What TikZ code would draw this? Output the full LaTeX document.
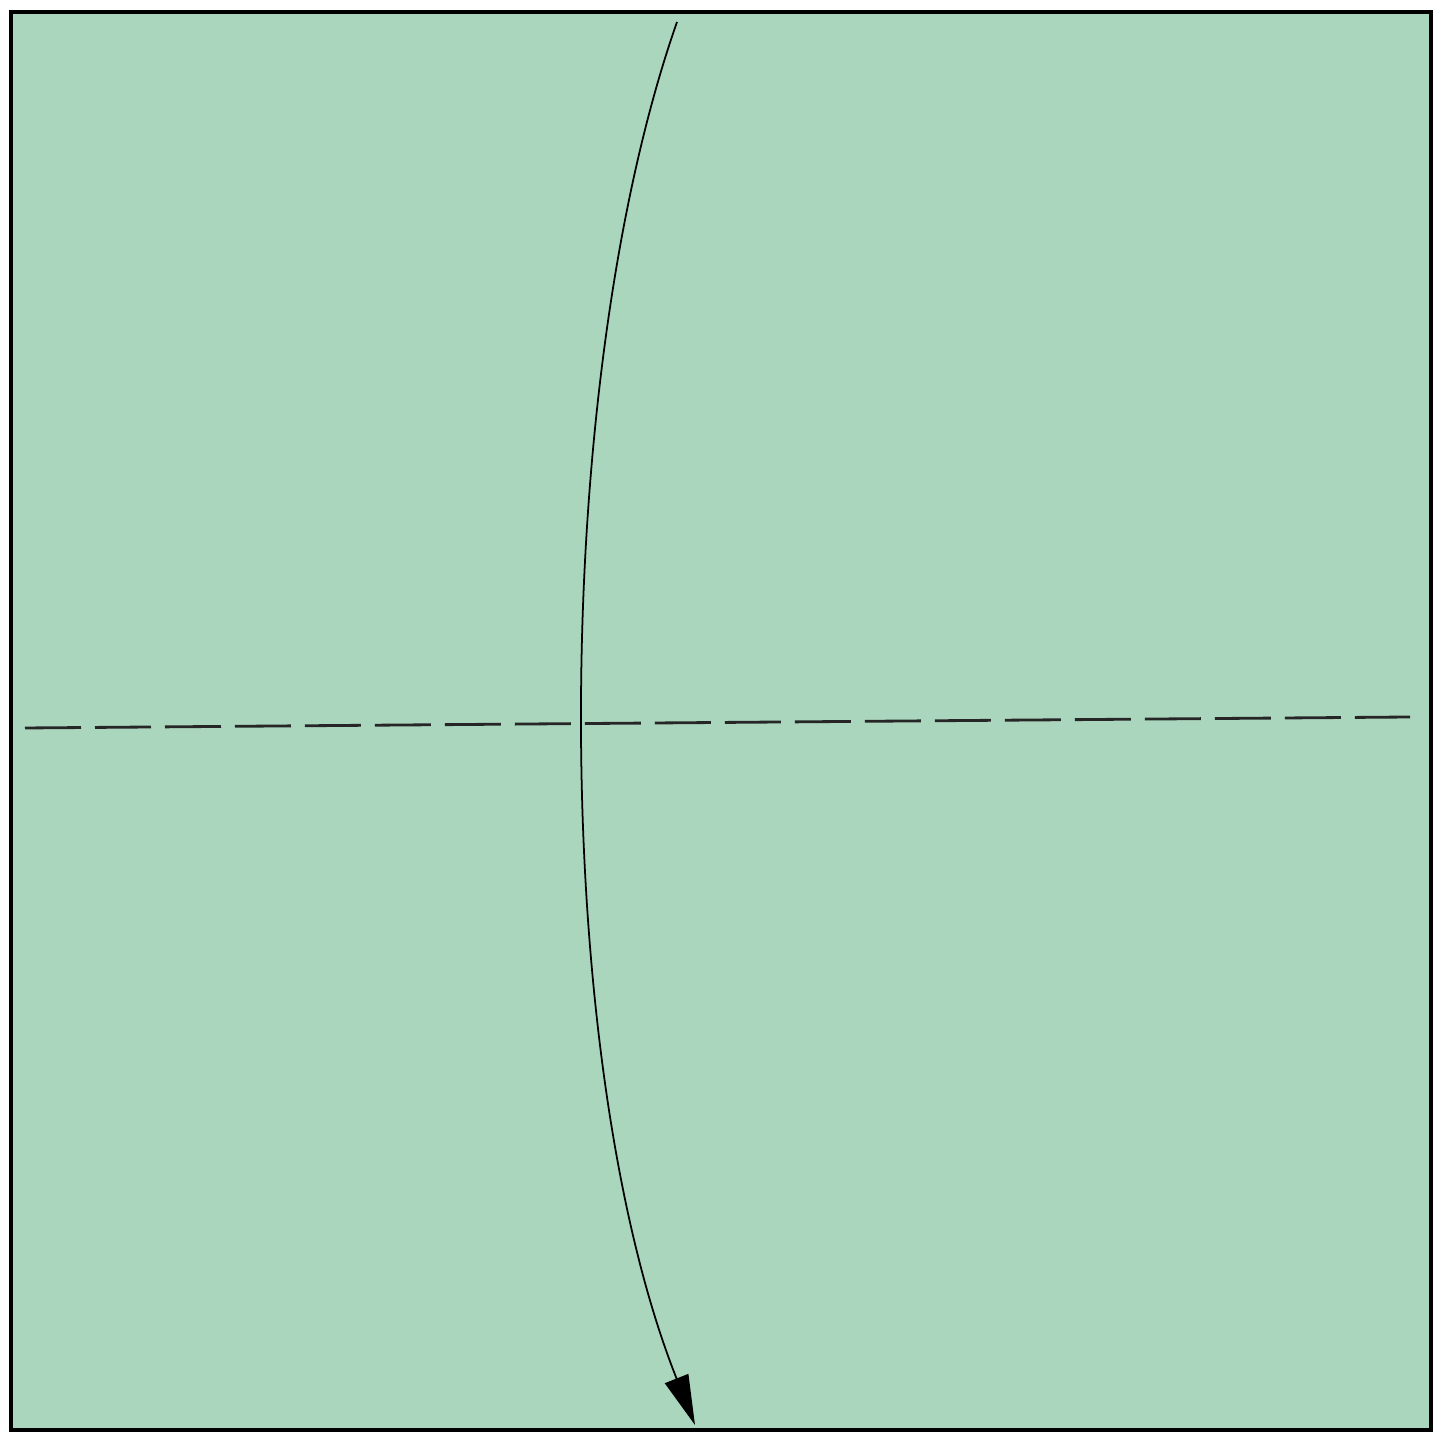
\documentclass[tikz,border=0pt]{standalone}
\usepackage{xcolor}
\usetikzlibrary{arrows.meta}
\definecolor{papergreen}{RGB}{170,214,190}

\begin{document}
\begin{tikzpicture}[
	paper/.style={draw=black, line width=1.3pt, fill=papergreen},
	valley/.style={draw=black!85, line width=0.8pt, dash pattern=on 5.6mm off 1.4mm},
	foldarrow/.style={-{Triangle[length=5mm, width=2.5mm]}, line width=0.5pt}
	]
	
	\useasboundingbox (0,0) rectangle (14.45,14.37);
	
	% sheet of paper
	\coordinate (TL) at (0.11,14.25);
	\coordinate (BR) at (14.31,0.07);
	\draw[paper] (TL) rectangle (BR);
	
	% valley fold line
	\coordinate (FoldL) at (0.25,7.09);
	\coordinate (FoldR) at (14.10,7.20);
	\draw[valley] (FoldL) -- (FoldR);
	
	% fold arrow
	\coordinate (ArrowStart) at (6.77,14.15);
	\coordinate (ArrowEnd) at (6.95,0.12);
	\draw[foldarrow] (ArrowStart) .. controls (5.49,10.5) and (5.49,3.8) .. (ArrowEnd);
	
\end{tikzpicture}
\end{document}
